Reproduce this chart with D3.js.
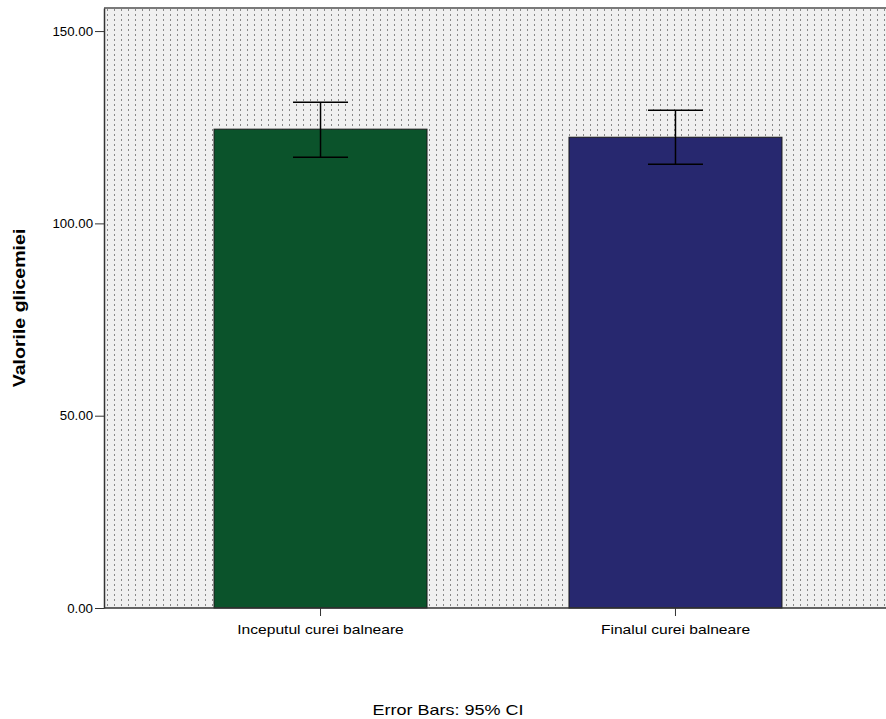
<!DOCTYPE html>
<html>
  <head>
    <meta charset="utf-8">
    <title>Valorile glicemiei</title>
    <script src="https://cdn.jsdelivr.net/npm/d3@7"></script>
    <style>
      body { margin: 0; background: #fff; }
      svg { display: block; font-family: "Liberation Sans", Arial, sans-serif; }
      .axis text { fill: #000; }
      .axis path, .axis line { stroke: #333; }
    </style>
  </head>

  <body>
    <svg id="chart" width="886" height="719"></svg>

    <script>
      // data
      const categories = ["Inceputul curei balneare", "Finalul curei balneare"];
      const means = [124.5, 122.4];
      const ciLow = [117.2, 115.4];
      const ciHigh = [131.5, 129.4];
      const barColors = ["#0b532b", "#27286f"];
      const yTicks = [0, 50, 100, 150];

      const width = 886, height = 719;
      const margin = {top: 8, left: 104, bottom: 111};

      const chart = d3.select("#chart");

      // background pattern
      const defs = chart.append("defs");
      const pat = defs.append("pattern")
          .attr("id", "dots")
          .attr("patternUnits", "userSpaceOnUse")
          .attr("width", 7)
          .attr("height", 5)
          .attr("x", margin.left)
          .attr("y", margin.top);
      pat.append("rect").attr("width", 7).attr("height", 5).attr("fill", "#f0f0f0");
      pat.append("rect").attr("x", 3).attr("y", 1).attr("width", 1).attr("height", 2).attr("fill", "#888");

      const y = d3.scaleLinear()
          .domain([0, 156])
          .range([height - margin.bottom, margin.top]);

      const x = d3.scaleBand()
          .domain(categories)
          .range([margin.left, 892])
          .paddingInner(0.4)
          .paddingOuter(0.31);

      chart.append("rect")
          .attr("x", margin.left)
          .attr("y", margin.top)
          .attr("width", width - margin.left)
          .attr("height", y(0) - margin.top)
          .attr("fill", "url(#dots)");

      // top border
      chart.append("line")
          .attr("x1", margin.left).attr("x2", width)
          .attr("y1", margin.top).attr("y2", margin.top)
          .attr("stroke", "#7a7a7a")
          .attr("stroke-width", 2);

      // bars
      chart.selectAll(".bar")
        .data(categories)
        .join("rect")
          .attr("class", "bar")
          .attr("x", d => x(d))
          .attr("y", (d, i) => y(means[i]))
          .attr("width", x.bandwidth())
          .attr("height", (d, i) => y(0) - y(means[i]))
          .attr("fill", (d, i) => barColors[i])
          .attr("stroke", "#1a1a1a")
          .attr("stroke-width", 1);

      // error bars
      const capW = 55;
      const err = chart.selectAll(".err")
        .data(categories)
        .join("g")
          .attr("class", "err")
          .attr("stroke", "#000")
          .attr("stroke-width", 1.5);
      err.append("line")
          .attr("x1", d => x(d) + x.bandwidth() / 2)
          .attr("x2", d => x(d) + x.bandwidth() / 2)
          .attr("y1", (d, i) => y(ciLow[i]))
          .attr("y2", (d, i) => y(ciHigh[i]));
      err.append("line")
          .attr("x1", d => x(d) + x.bandwidth() / 2 - capW / 2)
          .attr("x2", d => x(d) + x.bandwidth() / 2 + capW / 2)
          .attr("y1", (d, i) => y(ciHigh[i]))
          .attr("y2", (d, i) => y(ciHigh[i]));
      err.append("line")
          .attr("x1", d => x(d) + x.bandwidth() / 2 - capW / 2)
          .attr("x2", d => x(d) + x.bandwidth() / 2 + capW / 2)
          .attr("y1", (d, i) => y(ciLow[i]))
          .attr("y2", (d, i) => y(ciLow[i]));

      // stretch text a bit wider, like the original render
      function widen(sel, k) {
        sel.each(function() {
          const w = this.getComputedTextLength();
          d3.select(this).attr("textLength", w * k).attr("lengthAdjust", "spacingAndGlyphs");
        });
      }

      // y axis
      const yAxis = d3.axisLeft(y)
          .tickValues(yTicks)
          .tickFormat(d3.format(".2f"))
          .tickSize(9)
          .tickPadding(2)
          .tickSizeOuter(0);
      chart.append("g")
          .attr("class", "axis")
          .attr("transform", "translate(" + margin.left + ",0)")
          .call(yAxis)
          .call(g => g.select(".domain").attr("stroke-width", 1.5))
          .call(g => g.selectAll("text").attr("font-size", 12.5).call(widen, 1.06));

      // x axis
      const xAxis = d3.axisBottom(x)
          .tickSize(8)
          .tickPadding(9)
          .tickSizeOuter(0);
      chart.append("g")
          .attr("class", "axis")
          .attr("transform", "translate(0," + y(0) + ")")
          .call(xAxis)
          .call(g => g.select(".domain").attr("d", "M" + margin.left + ",0H" + width).attr("stroke-width", 1.5))
          .call(g => g.selectAll("text").attr("font-size", 13).call(widen, 1.2));

      // titles
      chart.append("text")
          .attr("transform", "translate(25," + ((margin.top + y(0)) / 2) + ") rotate(-90)")
          .attr("text-anchor", "middle")
          .attr("font-size", 17)
          .attr("font-weight", "bold")
          .text("Valorile glicemiei")
          .call(widen, 1.15);

      chart.append("text")
          .attr("x", 448)
          .attr("y", 715)
          .attr("text-anchor", "middle")
          .attr("font-size", 15)
          .text("Error Bars: 95% CI")
          .call(widen, 1.2);
    </script>
  </body>
</html>
